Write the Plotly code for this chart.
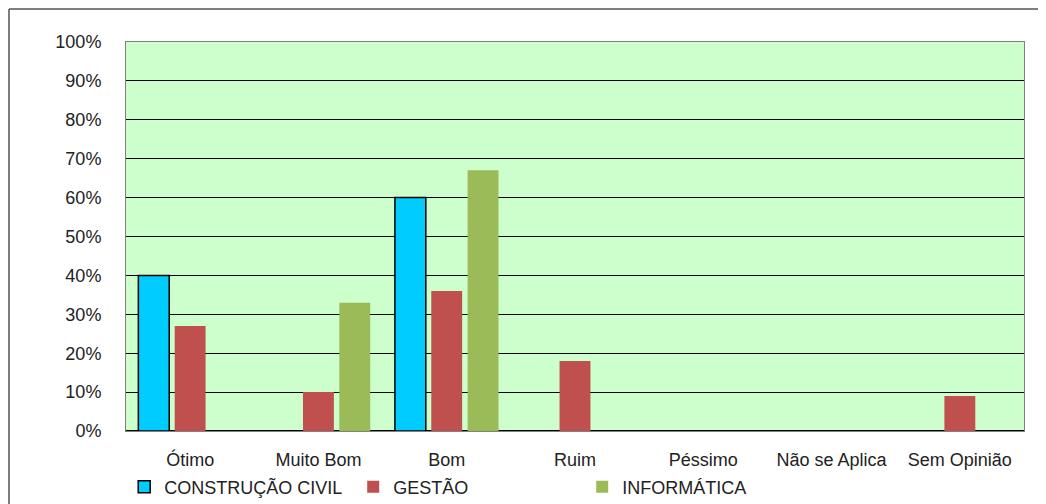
import plotly.graph_objects as go

# Categories and percentages
categorias = ["Ótimo", "Muito Bom", "Bom", "Ruim", "Péssimo", "Não se Aplica", "Sem Opinião"]
construcao_civil = [40, 0, 60, 0, 0, 0, 0]
gestao = [27, 10, 36, 18, 0, 0, 9]
informatica = [0, 33, 67, 0, 0, 0, 0]
y_ticks = [0, 10, 20, 30, 40, 50, 60, 70, 80, 90, 100]

font = "Liberation Sans, Arial, sans-serif"

fig = go.Figure()
fig.add_trace(go.Bar(x=categorias, y=construcao_civil, name="CONSTRUÇÃO CIVIL",
                     marker=dict(color="#00CCFF", line=dict(color="#000000", width=1.5))))
fig.add_trace(go.Bar(x=categorias, y=gestao, name="GESTÃO",
                     marker=dict(color="#C0504D", line=dict(width=0))))
fig.add_trace(go.Bar(x=categorias, y=informatica, name="INFORMÁTICA",
                     marker=dict(color="#9BBB59", line=dict(width=0))))

# the page body adds ~8px around the figure, so margins are shifted to compensate
fig.update_layout(
    width=1046, height=504,
    margin=dict(l=118, r=30, t=34, b=81, autoexpand=False),
    paper_bgcolor="white",
    plot_bgcolor="#CCFFCC",
    barmode="group",
    bargap=0.15,
    bargroupgap=0.15,
    font=dict(family=font, size=18, color="#222222"),
    showlegend=True,
    legend=dict(orientation="h", x=-0.002, xanchor="left",
                y=-0.144, yanchor="middle",
                entrywidth=184, entrywidthmode="pixels",
                font=dict(size=18), itemwidth=30, traceorder="normal",
                bgcolor="rgba(0,0,0,0)"),
    xaxis=dict(showgrid=False, showline=True, linecolor="#808080", mirror=True,
               ticks="", ticklabelstandoff=12, tickfont=dict(size=18)),
    yaxis=dict(range=[0, 100], tickvals=y_ticks,
               ticktext=[f"{v}%" for v in y_ticks],
               showgrid=True, gridcolor="#000000", gridwidth=1,
               zeroline=True, zerolinecolor="#000000", zerolinewidth=1.5,
               showline=True, linecolor="#808080", mirror=True,
               ticks="", ticklabelstandoff=20, tickfont=dict(size=18)),
    shapes=[
        dict(type="line", xref="paper", yref="paper", x0=-0.1303, x1=1.04, y0=1.085, y1=1.085,
             line=dict(color="#555555", width=1.5)),
        dict(type="line", xref="paper", yref="paper", x0=-0.1303, x1=-0.1303, y0=1.085, y1=-0.25,
             line=dict(color="#555555", width=1.5)),
    ],
)

fig.write_html("out.html")
